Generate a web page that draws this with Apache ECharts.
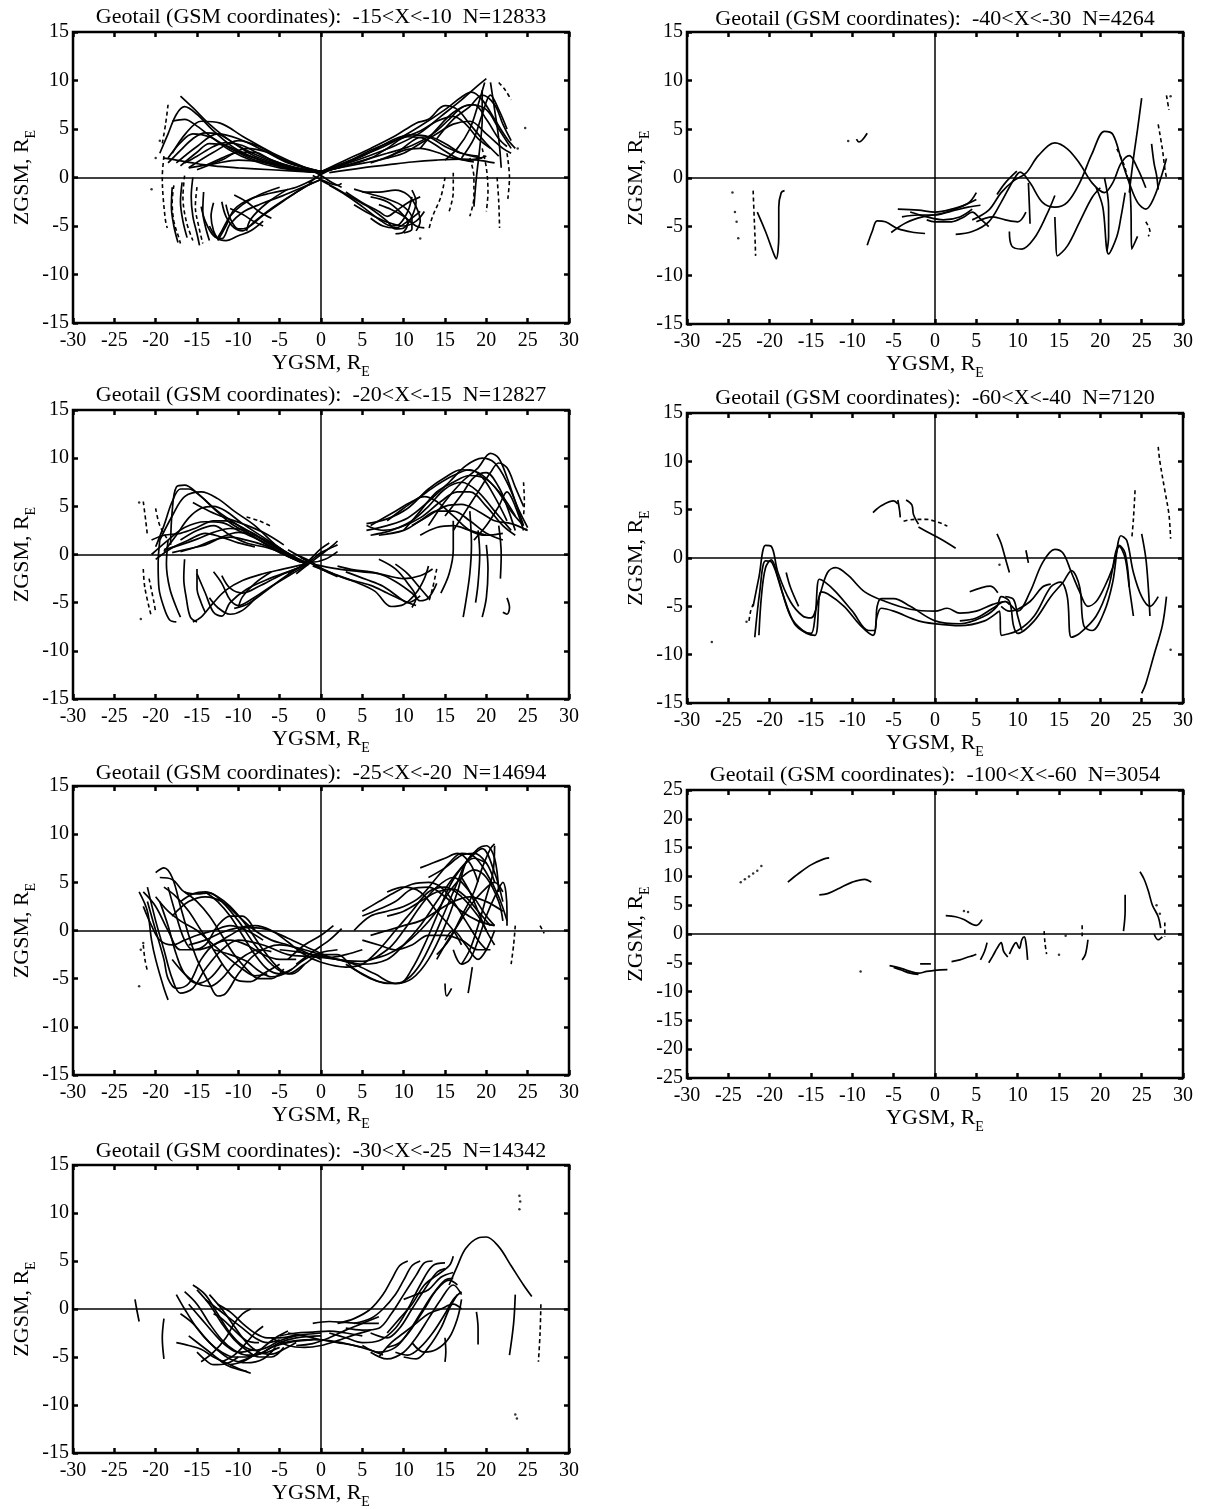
<!DOCTYPE html>
<html><head><meta charset="utf-8">
<script src="https://cdn.jsdelivr.net/npm/echarts@6/dist/echarts.min.js"></script>
<style>html,body{margin:0;padding:0;background:#fff}#c{width:1206px;height:1509px}</style>
</head><body><div id="c"></div>
<script>
// ---------- titles / axes ----------
const panelTitles = [
  'Geotail (GSM coordinates):  -15<X<-10  N=12833',
  'Geotail (GSM coordinates):  -20<X<-15  N=12827',
  'Geotail (GSM coordinates):  -25<X<-20  N=14694',
  'Geotail (GSM coordinates):  -30<X<-25  N=14342',
  'Geotail (GSM coordinates):  -40<X<-30  N=4264',
  'Geotail (GSM coordinates):  -60<X<-40  N=7120',
  'Geotail (GSM coordinates):  -100<X<-60  N=3054'
];
const xRange = [-30, 30];
const zRanges = [15, 15, 15, 15, 15, 15, 25];
const tickStep = 5;

// ---------- Panel 1: -15<X<-10 ----------
const p1Lines = [
  [[-17,8.4],[-15.5,7.2],[-13.5,5.5],[-11,3.8],[-8,2.4],[-5,1.4],[-2,0.8],[0,0.5]],
  [[-18,2.5],[-16.3,4.6],[-14.5,5.8],[-12.2,5.6],[-9.4,4.2],[-5.8,2.5],[-2.1,1.1],[0,0.6]],
  [[-18.5,2],[-17,3.6],[-15.5,4.5],[-13.5,4.2],[-11,3],[-8,1.8],[-4,1],[0,0.6]],
  [[-17.5,1.5],[-15,3.2],[-12.5,4.5],[-10,4],[-7,2.8],[-4,1.5],[0,0.6]],
  [[-17,1.2],[-15,2.6],[-13.5,3.5],[-11.5,3.3],[-9,2.3],[-5,1.2],[0,0.6]],
  [[-16,1],[-13,2.6],[-10,3.8],[-7.5,3.2],[-5,2],[-2,1],[0,0.6]],
  [[-15,0.8],[-12,1.8],[-9,3],[-6.5,2.6],[-4,1.6],[0,0.6]],
  [[-16,1],[-13,1.4],[-10,1.8],[-7,1.6],[-4,1.1],[0,0.5]],
  [[-19.5,2.5],[-18.5,4.5],[-17.5,6.5],[-16.5,7.3],[-15,6.5],[-13,4.8],[-10,2.8],[-6,1.4],[-3,0.8],[0,0.5]],
  [[-18.5,1.5],[-17,2.8],[-15.5,4],[-14,4.6],[-12.5,4.5],[-10.5,3.5],[-8,2.2],[-4,1.1],[0,0.5]],
  [[-16.5,1.5],[-15,2.2],[-13,3.2],[-11.5,3.6],[-9.5,3.3],[-7,2.2],[-4,1.2],[0,0.5]],
  [[-14,1.2],[-12,2],[-10,2.6],[-8,2.6],[-6,1.8],[-3,1],[0,0.5]],
  [[-19,2],[-17.5,1.8],[-15.5,1.5],[-13,1.2],[-10,1],[-6,0.8],[0,0.5]],
  [[-18,5.8],[-16.5,6],[-15,5.3],[-13,4],[-11,2.8],[-8.5,1.8],[-5,1],[0,0.5]],
  [[0,-0.2],[-2,-1],[-4.5,-2.4],[-7,-3.9],[-9,-5.2],[-10,-5.3],[-11,-4.2],[-11.5,-2.8]],
  [[0,-0.2],[-2.5,-1.1],[-5,-2],[-7.5,-2.8],[-9.5,-3.6],[-11,-4.8],[-12,-6.3],[-13,-6],[-14,-4.5],[-14.5,-3]],
  [[-0.5,0],[-3,-1],[-6,-1.6],[-8.5,-2.2],[-10.5,-3.3],[-11.5,-5],[-12.5,-6.5]],
  [[-1,-0.5],[-3.5,-1.8],[-6,-3.2],[-8,-4.5],[-9.5,-5.5],[-10.5,-5.2],[-11.5,-4],[-12,-2.5]],
  [[-5,-1],[-7.5,-1.8],[-9.5,-2.8],[-11,-4],[-12,-5.5],[-12.5,-6.2]],
  [[-7,-4.5],[-8.5,-5.5],[-10,-6],[-11.5,-6.5],[-12.5,-6.3],[-13.5,-5]],
  [[-4,-1.2],[-6.5,-2.6],[-8.5,-4.3],[-9,-5.5]],
  [[-10.5,-1.8],[-9,-2.5],[-7.5,-3.5],[-6,-4.2]],
  [[-11,-3.2],[-9.5,-3.8],[-8,-4.6],[-7,-5]],
  [[-13,-2.6],[-13.3,-4],[-13,-5.5],[-12.5,-6.3]],
  [[-18,-1],[-18.1,-3],[-17.8,-5],[-17.3,-6.7]],
  [[-16.8,-0.5],[-17,-2.5],[-16.7,-4.5],[-16.2,-6.2]],
  [[-15.5,0],[-15.7,-2],[-15.5,-4],[-15,-5.8],[-14.7,-7]],
  [[-14.2,-1.5],[-14.3,-3.5],[-14,-5],[-13.5,-6.5]],
  [[0,0.6],[3,1.6],[6,2.6],[9,3.8],[12,5.3],[15,7],[17,8.3],[18.2,8.8],[19.5,8],[21,6],[22.5,4],[23.5,3]],
  [[0,0.6],[3,1.4],[6,2.3],[9,3.3],[12,4.6],[14.5,6.3],[17,8],[19,9.5],[20,10.2]],
  [[0,0.6],[3,1.8],[6,3],[9,4.3],[11.5,5.6],[13,6],[15,7.4],[16.5,7],[18,5.5],[20,3.5],[21.5,2.2]],
  [[0,0.6],[3,1.2],[6,2],[8,3],[10.5,4.2],[12.5,4],[14.5,3],[16.5,2],[18.5,1.6]],
  [[0,0.6],[4,1.3],[7,1.8],[10,2.5],[12,3.5],[14,4.5],[16,5.5],[18,5.8],[20,4.5],[22,3],[23,2.5]],
  [[1,0.5],[5,1],[8,1.3],[11,1.6],[14,1.8],[17,1.9],[19,1.8],[21,1.5]],
  [[6,1.5],[9,2.5],[11.5,4],[13,4.2],[15,3.5],[17,2.5],[19.5,2]],
  [[12,3],[14,5],[16,6.7],[18,7.5],[20,7],[21.5,5],[23,3]],
  [[14,4],[16,6],[18,7.3],[19.5,8.5],[21,7.5],[22,5.5],[23,3.8]],
  [[0,0.5],[4,1.5],[8,2.5],[11,3.3],[13.5,4.5],[15.5,6],[17,7.2],[18.5,7.5],[20,6],[21.5,4],[22.5,3.2]],
  [[0,0.5],[5,2.2],[9,4],[11,4.4],[13,4.2],[15,3.2],[17,2.5],[19,2.2]],
  [[2,1],[6,2.8],[9.5,4],[12,4.8],[14,5.8],[16,6.3],[17.5,5.5],[19,4],[20.5,3]],
  [[8,2],[10,2.8],[12,3],[14,2.6],[16,2],[18,1.8],[20,2.2]],
  [[17,2],[18.5,4],[19.5,6.5],[20.5,8.5],[21.5,7],[22.5,5]],
  [[15,1.8],[16.5,3],[18,5],[19,7.5],[19.8,9.8]],
  [[19.5,9],[19.5,6],[19.2,3],[18.8,0],[18.5,-3]],
  [[20.5,9.8],[21,7],[21.5,4],[21.8,1]],
  [[0,-0.3],[2,-1.2],[4,-2.2],[6,-3.2],[8,-4.5],[9,-5.3],[10,-5.2],[11,-4],[11.5,-2.5],[11,-1.3]],
  [[5,-1.5],[7,-1.5],[9,-1.3],[10.5,-1.8],[11.5,-3],[12,-4.5],[11.5,-5.5]],
  [[4,-2.8],[6,-3.8],[8,-4.6],[10,-5],[11.5,-4.5],[12.5,-3.5]],
  [[6,-2],[8,-2.5],[9.5,-3.5],[10.5,-4.6],[10,-5.6],[9,-5.8]],
  [[3,-1.5],[5,-2.6],[7,-3.5],[8,-4],[9,-3.5],[10.5,-2.6],[12,-2]],
  [[1,-0.8],[3,-1.8],[5,-3],[7,-4.3],[8.5,-5],[9.5,-4.8],[10.5,-3.5],[11,-2]],
  [[4,-1.2],[6,-1.7],[8,-2.2],[10,-3],[11,-4.2],[11,-5.3],[10,-5.7]],
  [[7,-2.8],[8.5,-3.3],[10,-4],[11.5,-5],[12.5,-5.2]],
  [[6,-4.2],[7.5,-5],[9,-5.2],[10.5,-4.5],[12,-3.5]],
  [[-1.5,-0.6],[0,0.3],[1.5,0.9],[2.5,1.1]],
  [[-1.5,0.9],[0,0.2],[1.5,-0.6],[2.5,-1]],
  [[-1,0.2],[0.5,-0.4],[2,-0.8],[2.5,-0.6]]
];
const p1Dash = [
  [[-19,2.2],[-19.2,0],[-19.1,-2],[-18.8,-4.5],[-18.6,-5.2]],
  [[-17.8,-0.8],[-18,-2.5],[-17.8,-4.5],[-17.2,-6.2],[-17,-6.8]],
  [[-16.5,0.2],[-16.7,-2],[-16.3,-4.5],[-15.5,-6.5]],
  [[-15,-1],[-15.2,-3],[-14.8,-5],[-14.3,-6.8]],
  [[-18.5,7.5],[-18.8,5.5],[-19.2,3.5]],
  [[18,2],[18.5,0],[18.5,-2],[18,-4]],
  [[19.5,3],[20,1],[20.2,-1.5],[20,-3.5]],
  [[21.3,0],[21.5,-2.5],[21.6,-5.2]],
  [[22.5,2.5],[22.8,0],[22.6,-2.2]],
  [[15,0],[14.5,-2],[13.5,-4],[13,-5.5]],
  [[16,0.5],[16,-1.5],[15.5,-3.5]],
  [[21.5,9.8],[22.3,9],[23,8]]
];
const p1Dots = [[-20,2],[-19.5,3.8],[-20.5,-1.2],[24.7,5.1],[23.8,3],[12,-6.3]];

// ---------- Panel 2: -20<X<-15 ----------
const p2Lines = [
  [[-18.2,1],[-18,4.5],[-17.5,7],[-16.5,7.2],[-15,6.4],[-13,4.8],[-11,3.3],[-8.5,2],[-6,0.8],[-4,-0.2],[-2,-0.9]],
  [[-19.5,1.5],[-18,4],[-16.5,6],[-14.5,6.5],[-12.5,5.8],[-10.5,4.5],[-8,3],[-5.5,1],[-3,-0.4],[-1.5,-0.9]],
  [[-20.5,0],[-18.5,1.5],[-16.5,2.8],[-14,3.4],[-12,3.3],[-10,2.5],[-7.5,1.5],[-5,0.3],[-2,-0.9]],
  [[-19,0.5],[-17,1],[-15,1.6],[-13,2.3],[-11,2.7],[-9,2.5],[-7,1.6],[-4.5,0.4],[-2,-0.8]],
  [[-18,0.2],[-16,0.6],[-14,1],[-12,1.8],[-10,2.3],[-8,2],[-6,1],[-3.5,-0.2],[-1.5,-0.9]],
  [[-17,1.5],[-15,2.5],[-13,3],[-11,2],[-9,1.2],[-6.5,0.7],[-4,0]],
  [[-20,-0.5],[-18,0.7],[-16,1.5],[-14,2.2],[-12,1.8],[-10,1.2],[-8,0.8]],
  [[-15.5,5.4],[-13.5,4.5],[-11.5,3.8],[-9.5,3.2],[-7,2.3],[-4.5,1]],
  [[-20,0.8],[-19,3],[-18,5.5],[-17,6.8],[-16,6.8],[-14.5,6],[-12.5,4.5],[-10,3],[-7.5,1.5],[-5,0.2],[-2,-0.9]],
  [[-19,0.3],[-17.5,2],[-16,3.8],[-14.5,4.8],[-13,5],[-11.5,4.5],[-9.5,3.2],[-7,1.8],[-4.5,0.4],[-2,-0.9]],
  [[-20.5,1.5],[-19,2],[-17,2.2],[-15,2.8],[-13,3.5],[-11.5,3.5],[-9.5,2.8],[-7,1.5],[-4,0]],
  [[-17,0.3],[-15,0.8],[-13,1.5],[-11,1.8],[-9,1.5],[-7,1],[-5,0.2],[-2.5,-0.8]],
  [[-1.5,-1],[-3.5,-2],[-6,-3.3],[-8.5,-4.7],[-10,-5.3],[-11,-4.7],[-12,-3],[-13,-1.8]],
  [[-1.5,-1],[-4,-1.8],[-6.5,-2.6],[-9,-3.6],[-11,-5],[-12,-6.4],[-13,-6],[-14,-4],[-15,-2]],
  [[-2,-1],[-4.5,-1.5],[-7,-2],[-9.5,-2.7],[-11.5,-3.7],[-13,-5],[-14.5,-6.5],[-15.5,-7]],
  [[-3,-1.5],[-5,-2.7],[-7,-4],[-9,-5.2],[-10.5,-5.6]],
  [[-6,-1.8],[-8,-3],[-9.5,-4.4],[-10,-5.5]],
  [[-2.5,-1.3],[-5,-2.2],[-7.5,-3.3],[-9.5,-4],[-11,-3.5],[-12,-2.2]],
  [[-8,-4.6],[-9.5,-5.8],[-11,-6.2],[-12.5,-5.5],[-13.5,-4.5]],
  [[-19.5,1.5],[-19.7,-1],[-19.6,-3.5],[-19,-5.5],[-18.3,-6.8],[-17.5,-7]],
  [[-18.5,1.5],[-18.7,-1],[-18.3,-3.5],[-17.5,-5.5],[-17,-6.5]],
  [[-16.5,-0.5],[-16.6,-2.5],[-16.3,-4.5],[-15.8,-6.5],[-15,-7]],
  [[-15,-1.5],[-15,-3.5],[-14.5,-5],[-14,-6]],
  [[-3,-2],[-1.5,-1],[0,0],[1.5,1],[2,1.4]],
  [[-3,-1.5],[-1.5,-0.8],[0,0.2],[1.5,0.8],[2,1]],
  [[-4,-2],[-2,-1],[0,0.6],[1,1.2]],
  [[-3,0],[-1.5,-0.6],[0,-1.4],[1.5,-2]],
  [[-4,0.5],[-2,-0.5],[0,-1.5],[2,-2.3]],
  [[-2.5,-0.3],[-1,-0.8],[0.5,-0.5],[2,0.3]],
  [[5.5,3.2],[8,3.7],[10.5,4.8],[13,6.8],[15,8],[17,8.8],[19,8.5],[21,7],[23,4.5],[24.5,3]],
  [[5.5,2.5],[8,3],[10.5,3.8],[13,5.5],[15.5,7.5],[17.5,9.2],[19.5,10],[21,9.5],[22.5,7.5],[24,4.5],[25,2.8]],
  [[6,2],[8.5,2.5],[11,3.5],[13,5],[15,6.8],[17,7.5],[19,6.5],[21,4.5],[23,2.5]],
  [[6,3],[9,4.5],[11,5.5],[12.5,6],[14,5.5],[16,4],[18,2.5],[20,2],[22,2.2]],
  [[7,2],[10,2.5],[12,3.5],[14,4.5],[16,4.5],[18,3.5],[20,2.2],[22,1.5]],
  [[10,2.5],[12,4.5],[14,6.5],[16,7.5],[18,8.2],[20,7.8],[22,6],[23.5,4]],
  [[13,3],[15,5.5],[17,7.5],[19,9],[20.5,10.5],[21.5,10],[22.5,8],[23.5,5.5],[24.5,3]],
  [[15,4],[17,6.2],[18.5,8],[20,8.5],[21.5,7],[22.5,5],[23.5,2.5]],
  [[18.5,1.5],[20,3],[21.5,5],[22.5,6.5],[23.5,5],[24.5,2.5]],
  [[12,2],[14,2.8],[16,3],[18,2.5],[20,2]],
  [[5.5,3],[7.5,2.5],[9.5,2.8],[12,3.8],[14.5,5.5],[16.5,6.5],[18,6.5],[20,5],[22,3],[23.5,2]],
  [[8,3.5],[10,4.8],[12,6],[14,7.2],[16,8.2],[18,8.8],[19.5,8],[21,6],[22.5,3.5]],
  [[11,3],[13,4],[15,5],[17,5.2],[19,4.5],[21,3.5],[23,3.2],[25,2.5]],
  [[16,2.5],[17.5,4.5],[19,6.5],[20.5,8.5],[21.5,9.5],[22.5,9],[23.5,7],[24.5,5]],
  [[18,4.5],[18.2,1],[18,-2],[17.5,-5],[17.2,-6.5]],
  [[16,3.5],[16,0.5],[15.5,-2],[14.5,-4]],
  [[20,1],[20.2,-1.5],[20,-4.5],[19.5,-6.5]],
  [[21.5,3],[21.8,0],[21.7,-2.5]],
  [[19,2.5],[19.2,0],[19,-3],[18.7,-5]],
  [[22.5,-4.5],[22.8,-5.5],[22.5,-6.2],[22,-6]],
  [[-1,-1.2],[1.5,-2],[4,-2.8],[6.5,-3.8],[8.5,-5.4],[10,-5.2],[11.5,-4],[12.5,-2.5],[13,-1.2]],
  [[-1,-1],[2,-1.5],[5,-1.8],[7,-2],[9,-2.8],[11,-4],[12,-4.8],[13,-4.5],[14,-3]],
  [[0,-1.5],[3,-2.5],[6,-3.2],[8,-4],[10,-4.8],[11.5,-5.3]],
  [[2,-1.2],[4,-1.6],[6,-1.8],[8,-2.2],[10,-2.5],[12,-2.2],[13.5,-1.5]],
  [[7,-0.5],[9,-1.5],[10.5,-3],[11.5,-4.5],[11,-5.5]],
  [[9,-1],[10.5,-2],[12,-3.5],[13,-4.5]],
  [[3,-1.8],[5.5,-2.6],[7.5,-3.3],[9.5,-4.5],[10.5,-5],[12,-4.3]]
];
const p2Dash = [
  [[-9,3.9],[-7.5,3.5],[-6,2.9]],
  [[-21.5,5.5],[-21.2,3.5],[-21,2]],
  [[-20,4.8],[-19.5,3],[-18.5,1.5]],
  [[-21.5,-1.5],[-21.3,-3.5],[-20.5,-6.5]],
  [[-20.8,-2.5],[-20.2,-5],[-20,-6]],
  [[14,-1.5],[13.5,-3.5],[13,-5]],
  [[24.5,7.5],[24.6,5.5],[24.5,4]]
];
const p2Dots = [[-22,5.4],[-21.8,-6.7],[24.8,2.6]];

// ---------- Panel 3: -25<X<-20 ----------
const p3Lines = [
  [[-21,4.5],[-20,1],[-19,-2],[-18,-5],[-17,-6.5],[-15.5,-6],[-14,-4],[-12,-2],[-10,-1],[-7,-1.5],[-4,-2.5],[-1,-2.7],[2,-3],[5,-3.5],[8,-3],[10,-1.5],[12,0.5],[14,3],[16,5.5],[18,7.5],[19.5,8.5],[21,6],[22,3]],
  [[-20,6],[-19,6.5],[-18,5.5],[-17,2.5],[-16,-0.5],[-15,-3],[-13.5,-5.5],[-12.5,-6.8],[-11.5,-6.5],[-10,-4.5],[-8,-2.5],[-5,-1.5],[-2,-2],[1,-2.8],[4,-3.5],[6.5,-4.5],[9,-5.5],[11,-5],[13,-3],[15,0.5],[16.5,4],[17.5,7],[18.5,8]],
  [[-21.5,4],[-20,2.5],[-18.5,0],[-17,-2],[-15,-2],[-13,-1.5],[-11,-0.5],[-9,0.3],[-7,0.2],[-4,-0.8],[-1,-2],[2,-3],[5,-3.2],[8,-2],[10,0],[12,2.5],[14,4.5],[16,5.5],[18,4],[20,1.5],[21,0.5]],
  [[-19.5,5.5],[-18,5.3],[-16.5,4],[-15,3.8],[-13.5,3.9],[-12,3],[-10,1],[-8,-1.5],[-6,-3.5],[-4,-4.5],[-2,-3.5],[0,-2.5],[2,-2.5],[4,-4],[6,-5],[8,-5.5],[9.5,-5.5],[11,-4],[12.5,-1.5],[14,1.5],[15.5,4.5],[17,6.5],[18.5,7.5],[20,7]],
  [[-17,3],[-15.5,3.8],[-14,4],[-12.5,3.5],[-11,2.5],[-9,0.5],[-7,-2],[-5,-4],[-3.5,-4.5],[-2,-3.5]],
  [[-18,1.5],[-16,3],[-14,3.5],[-12,3],[-10,1.5],[-8,0],[-6,-1],[-4,-1.5],[-2,-2.2],[0,-3]],
  [[-22,4],[-21,2],[-20.5,-1],[-20,-3],[-19,-6],[-18.5,-7.2]],
  [[-16,-1.5],[-14,-1],[-12,-0.2],[-10,0.3],[-8,0.5],[-6,0],[-4,-1.2],[-2,-2.5],[0,-3.3],[3,-3.8],[5,-3.5],[7,-2],[9,0],[11,2],[13,4],[15,4.5],[17,3.5],[19,1.5],[20,0]],
  [[-13,-2],[-11,-2.5],[-9,-3.2],[-7.5,-4.2],[-6,-4.8],[-4,-4.3],[-2,-3],[0,-2.3],[2,-2]],
  [[-20,3.5],[-18.5,2],[-17,1],[-15,0],[-13,-1.5],[-11,-3],[-9.5,-4],[-8,-4.7],[-6.5,-4.5]],
  [[-19.5,3],[-18.5,0.5],[-17.5,-2.5],[-16.5,-4.5],[-15,-5.5],[-13.5,-5],[-12,-3.5]],
  [[-18.5,4.5],[-17.5,1.5],[-16.5,-1],[-15.5,-2],[-14,-1.5],[-12.5,0.5],[-11,1.5],[-9.5,1.5],[-8,0]],
  [[-21,3],[-20,0],[-19,-3],[-18.5,-5],[-17.5,-6],[-16,-5.5],[-14.5,-3],[-13,-1.5],[-11,-1],[-9,-1.5],[-7,-2.5],[-5,-3],[-3,-3]],
  [[-19,4.5],[-17.5,3.5],[-16,2],[-14.5,0],[-13,-2],[-11.5,-4],[-10,-5.2],[-8.5,-5.3],[-7,-4.5],[-5,-3.5]],
  [[-16.5,4],[-15,3],[-13.5,1.5],[-12,-0.5],[-10.5,-2.5],[-9,-4],[-7.5,-5],[-6,-5],[-4.5,-4]],
  [[-14,4],[-12.5,3],[-11,1.5],[-9.5,-0.5],[-8,-2.5],[-6.5,-4],[-5,-4.5],[-3.5,-4]],
  [[-21.5,2.5],[-20.5,0.5],[-19.5,-1],[-18,-1.5],[-16.5,-1],[-15,-0.5],[-13,0],[-11,0.5],[-9,0],[-7,-1]],
  [[-18,-3],[-16.5,-4.5],[-15,-5.5],[-13.5,-5.8],[-12,-5],[-10.5,-3.5],[-9,-2.5],[-7.5,-2],[-6,-2.2]],
  [[5,1.5],[7,2.2],[9,3],[11,4.3],[13,4.5],[15,3.5],[17,2],[19,1],[21,0.5]],
  [[4,0],[6,1.5],[8,2],[10,2.5],[12,3.5],[14,5.5],[15.5,7],[17,8],[18.5,7.7],[20,6],[21.5,3.5],[22.5,1]],
  [[6,-0.5],[8,0],[10,0.5],[12,1],[14,2],[16,3],[18,3.5],[20,3],[22,2]],
  [[5,-1],[7,-1.5],[9,-2],[11,-1.5],[13,-0.5],[15,-0.5],[17,-1],[19,-2],[20.5,-2]],
  [[14,-2.5],[15.5,-1],[17,1.5],[18.5,4],[19.5,6.5],[20.5,8.5],[21,9]],
  [[15,-1],[16,0],[17.5,-1.5],[19,-3],[20,-2],[21,0]],
  [[16,-2],[17,-3.5],[18,-3],[19,-1],[20,1.5],[21,3.5],[22,5],[22.5,2],[22.5,0.5]],
  [[8,4],[10,4.5],[12,4],[14,2],[16,0],[17,-1.5]],
  [[12,6.5],[13.5,7],[15,7.5],[16.5,8],[18,7],[19,5]],
  [[17,5.5],[18,4],[19,2],[20,0],[21,-1.5]],
  [[3,-3.5],[5,-4.5],[7,-5.3],[9,-5.5],[10.5,-5],[12,-3.5],[13.5,-1],[15,2],[16.5,5],[17.5,7],[19,8.5],[20,8.8],[21,7.5],[21.5,4]],
  [[6,-3],[8,-2.5],[10,-1.5],[12,0],[14,2],[15.5,4],[17,5.5],[18.5,6.3],[20,5.5],[21.5,3],[22,1]],
  [[8,1.5],[10,2],[12,3],[14,4],[16,4.3],[17.5,3.5],[19,2],[20.5,0.5]],
  [[5,2],[7,3],[9,4],[11,4.8],[13,5],[14.5,4.5],[16,3],[17.5,1],[19,-1],[20,-2]],
  [[13,5.5],[15,6.5],[17,7.8],[18.5,8],[20,7],[21,5]],
  [[17,-3.5],[18,-2],[19,0.5],[20,3.5],[20.8,6],[21,8.8]],
  [[14,-3],[15,-1.5],[16.5,0.5],[18,2.5],[19.5,4],[21,5],[22,4]],
  [[-4,-3],[-2,-1.5],[0,-0.5],[1.5,0.5]],
  [[-5,-2],[-3,-2.2],[-1,-2.5],[1,-2.8],[3,-2.5],[5,-2]],
  [[-3,-3.5],[-1,-2.2],[1,-1],[2.5,0.2]],
  [[15,-5.5],[15.2,-6.8],[15.8,-6]],
  [[18.3,-3.8],[18,-5.5],[17.8,-6.5]]
];
const p3Dash = [
  [[23.5,0.5],[23.3,-1.5],[23,-3.5]],
  [[26.5,0.5],[27,-0.3]],
  [[-21.5,-1.5],[-21.3,-3],[-21,-4.2]]
];
const p3Dots = [[-22,-5.8],[-21.8,-2],[-21.5,-1.3]];

// ---------- Panel 4: -30<X<-25 ----------
const p4Lines = [
  [[-17.5,1.5],[-16.5,0],[-15,-2],[-13.5,-3.5],[-12,-4.5],[-10.5,-5],[-9,-5],[-7,-4.5],[-5,-3.5],[-3,-3],[0,-2.8]],
  [[-16.5,1.8],[-15,0.5],[-13.5,-1.5],[-12,-3.2],[-10.5,-4.3],[-9,-4.8],[-7.5,-4.7],[-6,-4],[-4,-3.5],[-1,-3.2]],
  [[-15.5,2.5],[-14,1.5],[-12.5,-0.5],[-11,-2.5],[-9.5,-3.8],[-8,-4.3],[-6.5,-4],[-5,-3.3],[-3,-2.8],[0,-2.5]],
  [[-17,-0.5],[-15.5,-1.5],[-14,-3],[-12.5,-4.3],[-11,-5.2],[-9,-5.6],[-7,-5.2],[-5.5,-4]],
  [[-17.5,-3.5],[-16,-3.8],[-14.5,-4.2],[-13,-5],[-11.5,-5.6],[-10,-6.2],[-8.5,-6.7]],
  [[-14,1],[-12.5,0],[-11,-1],[-9.5,-2],[-8,-3],[-6.5,-3.5],[-5,-3.2]],
  [[-12.5,0.5],[-11,-0.3],[-9.5,-1.5],[-8,-2.5],[-6.5,-3],[-5,-3],[-3,-2.7]],
  [[-14.5,-5.5],[-13,-4.5],[-11.5,-3],[-10.5,-1.5],[-9.5,-0.5],[-8.5,0]],
  [[-12,-5.5],[-10.5,-4.8],[-9,-3.5],[-8,-2.5],[-7,-1.8]],
  [[-10,-5.5],[-8.5,-5],[-7,-4],[-5.5,-3],[-4,-2.3]],
  [[-15,-4.5],[-14,-5.3],[-13,-5.8],[-11.5,-5.7],[-10,-5]],
  [[-13,-0.5],[-12,-1],[-10.5,-2.2],[-9,-3.3],[-7.5,-3.5]],
  [[-16,0.5],[-14.5,-1],[-13,-2.5],[-11.5,-3.8],[-10,-4.5],[-8,-4.2]],
  [[-15,2],[-13.5,0.5],[-12,-1.5],[-10.5,-3.2],[-9,-4.3],[-7.5,-5],[-6,-5],[-4.5,-4]],
  [[-13.5,1.5],[-12,0],[-10.5,-1.8],[-9,-3.5],[-7.5,-4.5],[-6,-4.7],[-4.5,-4.2],[-3,-3.5]],
  [[-16,-2.8],[-14.5,-3.8],[-13,-4.8],[-11.5,-5.8],[-10,-6.3],[-9,-6.5]],
  [[-11,-5.8],[-9.5,-5.5],[-8,-4.8],[-6.5,-4.5],[-5,-4]],
  [[-5,-2.8],[-3,-2.5],[-1,-2.4],[1,-2.3],[3,-2.5],[5,-2.8]],
  [[-5,-3.6],[-3,-3.3],[-1,-3.2],[1,-3.3],[3,-3.6],[5,-4]],
  [[-4,-2.5],[-2,-2.8],[0,-3.2],[2,-3.5],[4,-3.8],[6,-4.3],[7.5,-4.8]],
  [[-3,-3.8],[-1,-3.6],[1,-3],[3,-2.2],[5,-1.5],[7,-0.8]],
  [[-1,-1.5],[1,-1.3],[3,-1.4],[5,-1.5],[7,-1.5]],
  [[-6,-3],[-4,-3.8],[-2,-4],[0,-3.8],[2,-3.3],[4,-2.7],[6,-2.2]],
  [[1,-2.5],[3,-3],[5,-3.5],[7,-3.3],[9,-2],[10.5,0],[12,2.5],[13.5,4.5],[15,4.8]],
  [[3,-2],[5,-2.2],[7,-2],[8.5,-0.5],[10,1.5],[11.5,3.5],[12.5,4.8],[13.5,5]],
  [[4,-1.5],[6,-1],[7.5,0],[9,1.5],[10,3],[11,4.5],[12,5]],
  [[5,-3.8],[7,-4.5],[9,-4],[10.5,-2.5],[12,-0.5],[13.5,1.5],[15,3],[16,3.2]],
  [[6,-4.5],[8,-5.2],[10,-4.5],[11.5,-3],[13,-1],[14.5,1],[16,2.5],[17,1.5]],
  [[9,-4.5],[10.5,-4.8],[12,-4],[13.5,-2.5],[15,-0.5],[16,1],[17,1.8]],
  [[8,-2.5],[9.5,-1],[11,0.5],[12.5,2.5],[14,3.5],[15.5,4.5],[16,5.5]],
  [[7,-5],[8.5,-3.5],[10,-2.5],[11.5,-1.5],[13,-0.5],[14.5,0],[16,0.5],[17,0]],
  [[11,-3.5],[12.5,-4.5],[14,-4.2],[15.5,-3],[16.5,-1],[17,1]],
  [[10,1],[11.5,1.5],[13,2],[14.5,3.3],[16,3.8]],
  [[2,-1.5],[4,-1],[6,0],[7.5,1.5],[8.5,3],[9.5,4.5],[10.5,5]],
  [[6,-2.5],[8,-3],[9.5,-2],[11,0],[12.5,2],[14,3.8],[15,4.2]],
  [[8,-4],[9.5,-3.5],[11,-2],[12.5,0],[14,2],[15.5,3],[16.5,2.5]],
  [[10,-5],[11.5,-5.2],[13,-4],[14.5,-2],[15.5,0],[16.5,1.5]],
  [[15.5,2.5],[16.5,4.5],[17.5,6.3],[19,7.4],[20,7.5],[21.5,6.5],[23,4.5],[24.5,2.5],[25.5,1.3]],
  [[-22.5,1],[-22.3,0],[-22,-1.3]],
  [[-19,-1],[-19.2,-3],[-19,-5.2]],
  [[15,-3],[15.1,-4.5],[15,-5.5]],
  [[18.8,-0.3],[19,-2],[19,-3.7]],
  [[23.5,1.5],[23.3,-1.5],[22.8,-4.8]]
];
const p4Dash = [
  [[26.6,0.5],[26.5,-2.5],[26.3,-5.5]]
];
const p4Dots = [[24,11.8],[24.1,11.2],[24,10.4],[23.5,-11],[23.7,-11.4]];

// ---------- Panel 5: -40<X<-30 ----------
const p5Lines = [
  [[-9.5,4],[-9.2,3.7],[-8.8,3.9],[-8.2,4.6]],
  [[-21.5,-3.5],[-20.5,-5.5],[-19.5,-7.8],[-19.2,-8.3],[-18.9,-6],[-18.9,-3],[-18.6,-1.5],[-18.2,-1.3]],
  [[-4.5,-3.2],[-2,-3.3],[0,-3.5],[2,-3.2],[4,-2.6],[5,-1.5]],
  [[-4,-4],[-2,-3.8],[0,-3.8],[2,-3.4],[4,-3],[5.5,-2.8]],
  [[-3,-3.5],[-1,-4],[1,-4.3],[3,-4],[4.5,-3.2]],
  [[-8.2,-6.9],[-7.6,-5.5],[-7,-4.4],[-6,-4.5],[-4.5,-5.2],[-2.5,-5.6],[-1.2,-5.7]],
  [[-5.3,-5.6],[-3.5,-4.6],[-1.5,-4],[1,-3.6],[3,-3],[5,-2.2]],
  [[-1,-4.3],[0,-4.5],[2,-4.5],[3.5,-4],[4.5,-3.5],[5.5,-4.2],[6.5,-5]],
  [[2.5,-5.8],[4.5,-5.5],[6.5,-4.5],[8,-2.5],[9.5,-0.2],[10.3,0.6],[11.5,-0.5],[13,-2.5],[14.5,-3],[16,-2.5],[17.5,-0.5],[19,2.5],[20.5,4.8],[21.5,4.5],[22.5,2],[23.5,-0.5],[24.5,-2.5],[25.5,-3.2],[26.5,-2],[27.5,0.5],[28,2]],
  [[4.5,-4.3],[6.5,-3.3],[8,-1.5],[9.5,-0.3],[11,0.5],[12.5,2.3],[14.5,3.6],[16,3],[17.5,1.5],[19,-0.5],[20.5,-1.5],[21.5,-0.5],[22.5,1.5],[23.5,2.3],[24.5,1],[25.5,-1]],
  [[7.5,-1.7],[8.5,-0.5],[9.9,0.7]],
  [[5,-4.5],[7,-4],[8.5,-4.3],[10,-4.5],[11,-3.5]],
  [[9,-5.5],[9.3,-7],[10.5,-7.3],[12,-6.2],[13.5,-3.8],[14.5,-1.8]],
  [[11.3,-0.5],[11.4,-2.5],[11.5,-4.7]],
  [[14.5,-4],[14.6,-6],[14.8,-8],[16,-7],[17.5,-4.5],[19,-2],[20,-1]],
  [[19.5,-1],[20.3,-3],[21,-7.8],[22,-6],[22.5,-4],[23,-1.5]],
  [[20.5,0],[21,-3],[21,-6],[20.8,-7.5]],
  [[23.5,0],[23.7,-3],[23.8,-7.3],[24.5,-6]],
  [[25,8.2],[24.5,5],[24,2],[23.5,-1.5]],
  [[26.2,3.5],[26.5,1.5],[26.8,0.3],[27,-1.2]]
];
const p5Dash = [
  [[-22,-1.3],[-21.9,-3.5],[-21.8,-5.5],[-21.7,-8]],
  [[22,3],[22.8,1.5],[23.3,0]],
  [[27,5.5],[27.5,3],[27.8,1],[28,0]],
  [[28,8.5],[28.3,7]],
  [[25.5,-4.5],[26,-5.5],[25.8,-6]]
];
const p5Dots = [[-24.5,-1.5],[-24.2,-3.5],[-24,-4.5],[-23.8,-6.2],[-10.5,3.8],[28.5,8.4]];

// ---------- Panel 6: -60<X<-40 ----------
const p6Lines = [
  [[-22,-5],[-21.3,-2],[-20.5,1.3],[-19.8,1.2],[-19,-1.5],[-17.5,-4.5],[-16,-6],[-15,-6.2],[-14,-4],[-13,-1.5],[-12,-1],[-10.5,-1.8],[-8.5,-3.5],[-6,-4.5],[-3,-5.3],[0,-5.5],[1.5,-5.2],[3,-5.7],[5,-5.5],[7,-4.8],[8.5,-4.5],[10,-5.5],[11.5,-3.5],[13,-0.5],[14.5,0.9],[15.5,0.5],[16.5,-1.5],[17.5,-3.5],[18.5,-5],[19.5,-4.5],[20.5,-3],[21.5,-1],[22.3,1.2],[23,0],[23.5,-3],[24,-6]],
  [[-21.3,-8],[-21,-4],[-20.5,-1],[-19.8,-0.2],[-19,-2],[-17.5,-6],[-16,-7.5],[-15,-7.8],[-14.5,-6],[-14,-2.2],[-13.3,-2.5],[-12,-3.5],[-10,-5.5],[-8,-7.5],[-7.3,-7.5],[-7,-5],[-6.5,-4.2],[-5,-4.2],[-3,-5],[0,-6.5],[3,-6.8],[6,-6],[7.5,-5],[8,-4],[9,-4.5],[9.5,-7],[10,-7.8],[12,-6.5],[14,-4],[15.5,-2.5],[16.5,-1.3],[17.5,-3],[18,-7],[19,-7.5],[20.5,-5.5],[21.5,-2.5],[22.5,2.3],[23.2,1.8],[24,-1.5],[25,-4],[26,-5],[27,-4]],
  [[-21.8,-8.2],[-21.2,-3.5],[-20.5,-0.3],[-19.7,-0.5],[-18.5,-3.5],[-17,-6.8],[-15.5,-7.8],[-14.5,-8],[-13.8,-3.5],[-13,-3.7],[-11,-5],[-9,-7],[-7.5,-8],[-7,-6],[-6.5,-5.2],[-5,-5.5],[-2,-6.5],[0,-6.8],[3,-7],[6,-6.5],[7.8,-5.5],[8,-8],[10,-7.5],[12,-6],[14,-3],[15.2,-2.5],[16,-4],[16.5,-8.2],[17.5,-7.8],[19.5,-6],[21,-3],[22.3,1.3],[23,0.5],[23.5,-3]],
  [[8,-5],[9,-5.5],[10,-5.3],[11.5,-4.5],[13,-3],[14,-2.7]],
  [[8.5,-4],[9.5,-4.3],[10,-6],[10.5,-7.5]],
  [[3,-6.5],[5,-6.2],[7,-5.2],[8.5,-4.5],[9,-4.8]],
  [[4.2,-3.5],[6.7,-2.9],[7.6,-3.6]],
  [[-18,-1.5],[-17.5,-3],[-16.5,-5]],
  [[-7.5,4.7],[-6.5,5.4],[-5,5.9],[-4.5,5.6]],
  [[-4.5,6],[-4.3,5],[-4.2,4.2]],
  [[-3.5,6],[-2.8,5.5],[-2.6,4.5],[-2,3.5]],
  [[-2,3.2],[-0.5,2.5],[1,1.8],[2.5,1]],
  [[7.5,2.5],[8,1.5],[8.5,0],[9,-1.5]],
  [[11,0.8],[11.3,-0.5]],
  [[25,2.5],[25.5,0],[25.8,-3],[26,-6]],
  [[28,-4],[27.5,-7],[26.5,-10],[25.5,-13],[25,-14]]
];
const p6Dash = [
  [[-3.8,3.8],[-2.5,4],[-1,4],[0,3.8],[1,3.5],[1.5,3.3]],
  [[27,11.5],[27.2,10],[27.8,7],[28.3,4.5],[28.5,2]],
  [[24.2,7],[24,4],[23.8,2]],
  [[-22.5,-6.5],[-22.3,-5.5],[-22,-4.8]]
];
const p6Dots = [[-27,-8.7],[-22.8,-6.6],[7.8,-0.7],[28.5,-9.5]];

// ---------- Panel 7: -100<X<-60 ----------
const p7Lines = [
  [[-17.8,9],[-16.5,10.5],[-15,12],[-13.5,13],[-12.8,13.2]],
  [[-14,6.8],[-13,7],[-11.5,8],[-10,9],[-8.5,9.5],[-7.7,9]],
  [[1.3,3.2],[2.5,3],[3.5,2.5],[4.5,1.7],[5,1.5],[5.7,2.5]],
  [[-5.5,-5.5],[-4,-6],[-3,-6.5],[-2,-6.8],[-1,-6.5],[0,-6.3],[1.5,-6.2]],
  [[-5,-5.8],[-4,-6.3],[-3,-6.8],[-2,-7]],
  [[-1.8,-5.2],[-0.5,-5.2]],
  [[2,-4.8],[3,-4.5],[4,-4],[4.5,-3.8],[5,-3.5]],
  [[5.5,-4.5],[6,-3],[6.3,-1.5]],
  [[6.5,-5],[7,-3.8],[7.5,-2.5],[8,-1.5],[8.3,-3],[8.8,-4]],
  [[9,-3.5],[9.5,-2],[9.8,-1.5],[10.2,-2.5],[10.5,-1],[10.8,-0.5],[11,-1.5],[11.2,-4.5]],
  [[18.5,-1],[18.2,-3.5],[17.8,-4.5]],
  [[23,6.8],[23,4],[22.8,0.5]],
  [[24.8,10.8],[25.3,9.5],[25.8,7.5],[26.3,5],[27,3],[27.3,1]],
  [[26.5,0],[27,-1],[27.5,-0.5]]
];
const p7Dash = [
  [[13.2,0.5],[13.3,-1.5],[13.5,-3.5]],
  [[17.8,1.5],[17.8,-0.5]],
  [[27.8,2],[27.8,-0.5]]
];
const p7Dots = [[-23.5,9],[-23,9.5],[-22.5,10],[-22,10.5],[-21.5,11],[-21,11.8],[3.5,4],[4,3.8],[15,-3.6],[15.8,-0.3],[26.8,5],[27.2,3.5],[-9,-6.5]];

const panelLines = [p1Lines, p2Lines, p3Lines, p4Lines, p5Lines, p6Lines, p7Lines];
const panelDash = [p1Dash, p2Dash, p3Dash, p4Dash, p5Dash, p6Dash, p7Dash];
const panelDots = [p1Dots, p2Dots, p3Dots, p4Dots, p5Dots, p6Dots, p7Dots];

// ---------- layout ----------
const boxes = [
  [73, 32, 496, 291], [73, 410, 496, 289], [73, 786, 496, 289], [73, 1165, 496, 288],
  [687, 32, 496, 292], [687, 413, 496, 290], [687, 790, 496, 288]
];
const titleY = [17, 395, 773, 1151, 19, 398, 775];
const FONT = '"Liberation Serif","DejaVu Serif","Times New Roman",serif';

const grids = [], xAxes = [], yAxes = [], series = [], graphics = [];
const rich = {
  a: {fontSize: 22, fontFamily: FONT, color: '#000', verticalAlign: 'bottom', padding: [0, 0, 5, 0]},
  b: {fontSize: 14, fontFamily: FONT, color: '#000', verticalAlign: 'bottom'}
};
const tickStyle = {show: true, inside: true, length: 5, lineStyle: {color: '#000', width: 2.5}};

boxes.forEach((b, i) => {
  grids.push({left: b[0], top: b[1], width: b[2], height: b[3], show: true,
    borderColor: '#000', borderWidth: 2.5, backgroundColor: 'transparent', outerBoundsMode: 'none'});
  const zr = zRanges[i];
  const xBase = {type: 'value', gridIndex: i, min: xRange[0], max: xRange[1], interval: tickStep,
    axisLine: {show: false, onZero: false}, splitLine: {show: false}, axisTick: tickStyle};
  const yBase = {type: 'value', gridIndex: i, min: -zr, max: zr, interval: tickStep,
    axisLine: {show: false, onZero: false}, splitLine: {show: false}, axisTick: tickStyle};
  xAxes.push(Object.assign({}, xBase, {position: 'bottom',
    axisLabel: {fontSize: 20, fontFamily: FONT, color: '#000', margin: 8, showMinLabel: true, showMaxLabel: true},
    name: '{a|YGSM, R}{b|E}', nameLocation: 'middle', nameGap: 29, nameTextStyle: {rich: rich}}));
  xAxes.push(Object.assign({}, xBase, {position: 'top', axisLabel: {show: false}}));
  yAxes.push(Object.assign({}, yBase, {position: 'left',
    axisLabel: {fontSize: 20, fontFamily: FONT, color: '#000', margin: 4, showMinLabel: true, showMaxLabel: true},
    name: '{a|ZGSM, R}{b|E}', nameLocation: 'middle', nameGap: 35, nameTextStyle: {rich: rich}}));
  yAxes.push(Object.assign({}, yBase, {position: 'right', axisLabel: {show: false}}));

  graphics.push({type: 'text', x: b[0] + b[2] / 2, y: titleY[i], silent: true,
    style: {text: panelTitles[i], fill: '#000', font: '22px ' + FONT, textAlign: 'center', textVerticalAlign: 'middle'}});

  const ax = {xAxisIndex: 2 * i, yAxisIndex: 2 * i};
  series.push(Object.assign({type: 'line', data: [], showSymbol: false, silent: true,
    markLine: {silent: true, symbol: 'none', label: {show: false},
      lineStyle: {color: '#000', width: 1.5, type: 'solid'}, data: [{yAxis: 0}, {xAxis: 0}], animation: false}}, ax));
  panelLines[i].forEach(pts => series.push(Object.assign({type: 'line', data: pts, showSymbol: false, smooth: 0.35,
    silent: true, lineStyle: {color: '#000', width: 1.7}}, ax)));
  panelDash[i].forEach(pts => series.push(Object.assign({type: 'line', data: pts, showSymbol: false, smooth: 0.35,
    silent: true, lineStyle: {color: '#000', width: 1.6, type: [4, 3]}}, ax)));
  series.push(Object.assign({type: 'scatter', data: panelDots[i], symbolSize: 2.5, silent: true,
    itemStyle: {color: '#000'}}, ax));
});

const chart = echarts.init(document.getElementById('c'), null, {renderer: 'canvas'});
chart.setOption({animation: false, backgroundColor: '#fff', grid: grids, xAxis: xAxes, yAxis: yAxes,
  series: series, graphic: graphics});
</script></body></html>
